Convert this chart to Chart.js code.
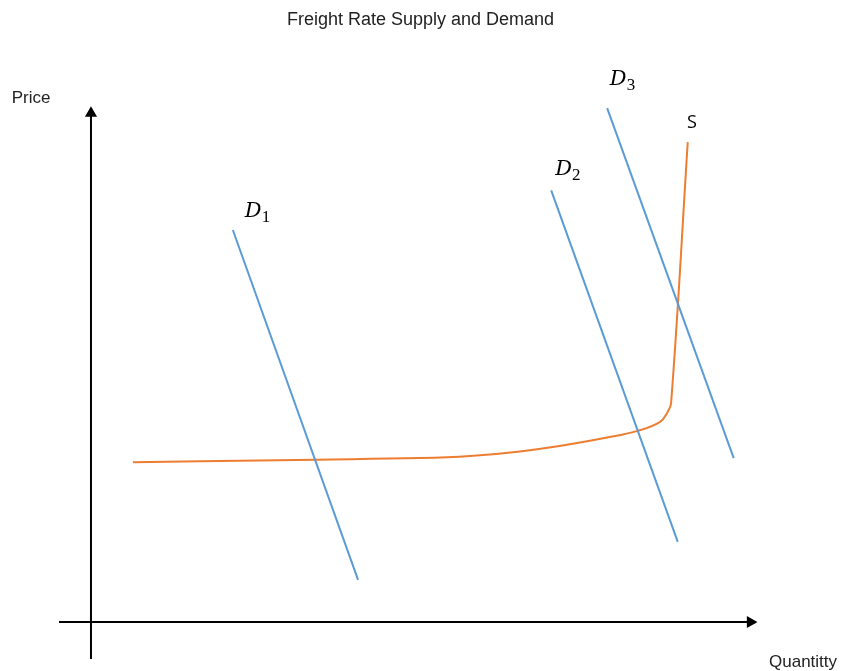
<!DOCTYPE html>
<html>
<head>
<meta charset="utf-8">
<script src="https://cdn.jsdelivr.net/npm/chart.js@4"></script>
<style>
  html, body { margin: 0; padding: 0; background: #fff; }
  #box { width: 841px; height: 671px; position: relative; }
</style>
</head>
<body>
<div id="box"><canvas id="grafico"></canvas></div>
<script>
// ===== DADOS =====
// quantity (x) and price (y), origin of the drawn axes = (0, 0)
const demanda1Q = [21.3, 40.1];
const demanda1P = [76.3, 8.2];
const demanda2Q = [69.1, 88.1];
const demanda2P = [84.0, 15.6];
const demanda3Q = [77.5, 96.5];
const demanda3P = [100.0, 31.9];

const ofertaQ = [6.3, 16.4, 33.8, 49.4, 56.9, 64.4, 71.9, 77.5, 82.1, 85.4, 86.5, 87.1, 89.6];
const ofertaP = [31.1, 31.3, 31.6, 31.9, 32.3, 33.2, 34.6, 35.9, 37.2, 38.9, 40.7, 42.6, 93.4];

// axis lines (ends of the arrows)
const eixoPrecoQ = [0, 0];
const eixoPrecoP = [-7.2, 99];
const eixoQtdQ = [-4.8, 99];
const eixoQtdP = [0, 0];

const titulo = "Freight Rate Supply and Demand";
const rotuloY = "Price";
const rotuloX = "Quantitty";
const nomesCurvas = ["1", "2", "3"];
const nomeOferta = "S";

// ===== CORES =====
const azul = "#5b9bd5";
const laranja = "#ed7d31";

const pares = (xs, ys) => xs.map((x, i) => ({ x: x, y: ys[i] }));

// where the labels sit (data units)
const posRotulos = {
  d: [{ x: 23.1, y: 78.8 }, { x: 69.7, y: 87.0 }, { x: 77.9, y: 104.5 }],
  s: { x: 89.5, y: 96.1 },
  preco: { x: -11.9, y: 101.9 },
  qtd: { x: 101.8, y: -7.8 }
};

const rotulos = {
  id: "rotulos",
  afterDatasetsDraw(chart) {
    const c = chart.ctx;
    const sx = chart.scales.x, sy = chart.scales.y;
    c.save();
    c.fillStyle = "#000";
    c.textBaseline = "alphabetic";
    c.textAlign = "left";
    posRotulos.d.forEach((p, i) => {
      const px = sx.getPixelForValue(p.x), py = sy.getPixelForValue(p.y);
      c.font = "italic 21px 'DejaVu Serif'";
      c.fillText("D", px, py);
      const w = c.measureText("D").width;
      c.font = "17px 'Liberation Serif'";
      c.fillText(nomesCurvas[i], px + w, py + 5);
    });
    c.font = "18px 'Open Sans'";
    c.fillText(nomeOferta, sx.getPixelForValue(posRotulos.s.x), sy.getPixelForValue(posRotulos.s.y));
    c.textBaseline = "middle";
    c.font = "17px 'Liberation Sans'";
    c.fillStyle = "#222";
    c.fillText(rotuloY, sx.getPixelForValue(posRotulos.preco.x), sy.getPixelForValue(posRotulos.preco.y));
    c.fillText(rotuloX, sx.getPixelForValue(posRotulos.qtd.x), sy.getPixelForValue(posRotulos.qtd.y));
    c.restore();
  }
};

const linha = (dados, cor, largura) => ({
  data: dados,
  borderColor: cor,
  backgroundColor: cor,
  borderWidth: largura,
  pointRadius: 0,
  fill: false,
  tension: 0
});

const eixoV = linha(pares(eixoPrecoQ, eixoPrecoP), "#000", 2);
eixoV.pointRadius = [0, 5];
eixoV.pointStyle = "triangle";
eixoV.pointRotation = 0;

const eixoH = linha(pares(eixoQtdQ, eixoQtdP), "#000", 2);
eixoH.pointRadius = [0, 5];
eixoH.pointStyle = "triangle";
eixoH.pointRotation = 90;

const oferta = linha(pares(ofertaQ, ofertaP), laranja, 2);
oferta.tension = 0.4;

new Chart(document.getElementById("grafico"), {
  type: "line",
  data: {
    datasets: [
      eixoV,
      eixoH,
      linha(pares(demanda1Q, demanda1P), azul, 2),
      linha(pares(demanda2Q, demanda2P), azul, 2),
      linha(pares(demanda3Q, demanda3P), azul, 2),
      oferta
    ]
  },
  options: {
    responsive: true,
    maintainAspectRatio: false,
    animation: false,
    layout: { padding: 0, autoPadding: false },
    plugins: {
      legend: { display: false },
      tooltip: { enabled: false },
      title: {
        display: true,
        text: titulo,
        color: "#222",
        font: { family: "'Liberation Sans'", size: 18, weight: "normal" },
        padding: { top: 9, bottom: 0 }
      }
    },
    scales: {
      x: { type: "linear", display: false, min: -13.66, max: 112.61 },
      y: { type: "linear", display: false, min: -9.53, max: 115.1 }
    }
  },
  plugins: [rotulos]
});
</script>
</body>
</html>
